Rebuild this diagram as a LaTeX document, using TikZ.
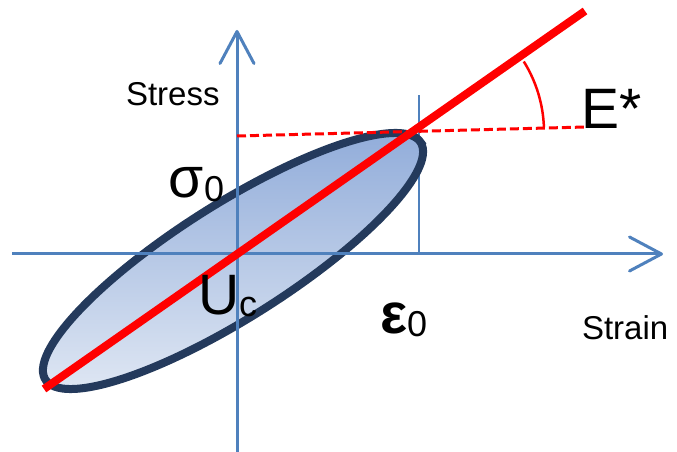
\documentclass[tikz,border=0pt]{standalone}
\usepackage{fontspec}
\setmainfont{Liberation Sans}
\usetikzlibrary{arrows.meta}
\definecolor{axisblue}{RGB}{79,129,189}
\definecolor{navyline}{RGB}{36,58,92}
\definecolor{fillA}{RGB}{146,173,218}
\definecolor{fillB}{RGB}{222,230,243}
\begin{document}
\begin{tikzpicture}[x=1pt,y=1pt,
  axisline/.style={draw=axisblue, line width=3pt, -{Straight Barb[length=32pt,width=34pt,round]}},
  guide/.style={draw=axisblue, line width=2.5pt},
  redline/.style={draw=red, line width=8pt},
  reddash/.style={draw=red, line width=3pt, dash pattern=on 9pt off 4pt},
  redarc/.style={draw=red, line width=2.5pt},
  lbl/.style={anchor=base west, inner sep=0pt, outer sep=0pt},
  big/.style={font=\fontsize{57}{57}\selectfont},
  mid/.style={font=\fontsize{33}{33}\selectfont}]
\useasboundingbox (0,0) rectangle (677,452);
% coordinates
\coordinate (xL) at (12,198);
\coordinate (xR) at (663,198);
\coordinate (yB) at (237,-2);
\coordinate (yT) at (237,422);
\coordinate (vB) at (419,198);
\coordinate (vT) at (419,357);
\coordinate (rA) at (44,63);
\coordinate (rB) at (585,441);
\coordinate (dA) at (237,316);
\coordinate (dB) at (586,325);
\coordinate (X) at (411,320);
% guide line at strain amplitude
\draw[guide] (vB) -- (vT);
% hysteresis ellipse
\shade[top color=fillA, bottom color=fillB]
  plot[domain=0:360, samples=120, smooth cycle]
  ({233+222*cos(\x)*cos(32.3)-57*sin(\x)*sin(32.3)},
   {191+222*cos(\x)*sin(32.3)+57*sin(\x)*cos(32.3)});
\draw[navyline, line width=8pt]
  plot[domain=0:360, samples=120, smooth cycle]
  ({233+222*cos(\x)*cos(32.3)-57*sin(\x)*sin(32.3)},
   {191+222*cos(\x)*sin(32.3)+57*sin(\x)*cos(32.3)});
% axes
\draw[axisline] (xL) -- (xR);
\draw[axisline] (yB) -- (yT);
% red lines
\draw[reddash] (dA) -- (dB);
\draw[redline] (rA) -- (rB);
\draw[redarc] (X) ++(2:133) arc[start angle=2, end angle=32, radius=133];
% labels
\node[lbl, mid] (stress) at (126,346) {Stress};
\node[lbl, mid] (strain) at (582,112) {Strain};
\node[lbl, big] (estar) at (581,323) {E*};
\node[lbl, big] (sigma) at (168,254) {σ\kern1pt\raisebox{-4pt}{\fontsize{36}{36}\selectfont 0}};
\node[lbl, big] (uc) at (198,137) {U\raisebox{-2pt}{\fontsize{36}{36}\selectfont c}};
\node[lbl, big] (eps) at (380,118) {\bfseries ε\raisebox{-3pt}{\fontsize{36}{36}\selectfont\mdseries 0}};
\end{tikzpicture}
\end{document}
